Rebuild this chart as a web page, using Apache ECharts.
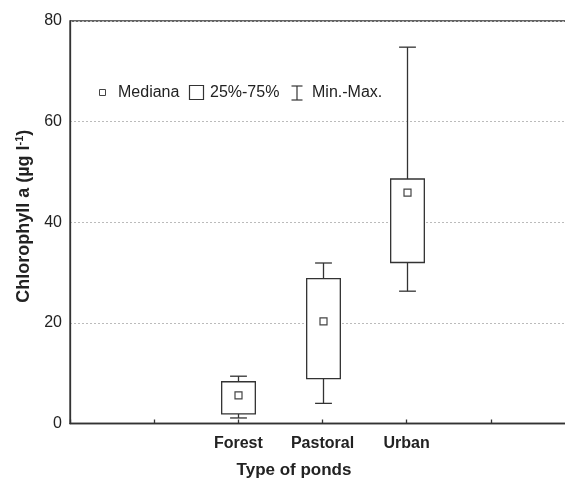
<!DOCTYPE html>
<html>
<head>
<meta charset="utf-8">
<script src="https://cdn.jsdelivr.net/npm/echarts@6/dist/echarts.min.js"></script>
<style>html,body{margin:0;padding:0;background:#fff;}#c{width:565px;height:479px;}</style>
</head>
<body>
<div id="c"></div>
<script>
// Category slots on the x axis (blank slots are empty positions)
var categories = [' ', '  ', 'Forest', 'Pastoral', 'Urban', '   ', '    '];
var groupIndex = [2, 3, 4];
var minVals = [1.1, 4.0, 26.3];
var q1Vals = [1.9, 8.9, 32.0];
var medianVals = [5.6, 20.3, 45.9];
var q3Vals = [8.3, 28.8, 48.6];
var maxVals = [9.4, 31.9, 74.8];
var yTicks = [0, 20, 40, 60, 80];

var FONT = "Arial, 'Liberation Sans', sans-serif";
var INK = '#222';
var LINE = '#333';

var boxData = groupIndex.map(function (g, i) {
  return [g, minVals[i], q1Vals[i], medianVals[i], q3Vals[i], maxVals[i]];
});

function renderBox(params, api) {
  var x = api.value(0);
  var pMin = api.coord([x, api.value(1)]);
  var pQ1 = api.coord([x, api.value(2)]);
  var pMed = api.coord([x, api.value(3)]);
  var pQ3 = api.coord([x, api.value(4)]);
  var pMax = api.coord([x, api.value(5)]);
  var band = api.size([1, 0])[0];
  var hw = band * 0.2;
  var cw = band * 0.1;
  var cx = Math.round(pQ1[0]) + 0.5;
  var st = { stroke: LINE, lineWidth: 1.3, fill: null };
  return {
    type: 'group',
    children: [
      { type: 'line', shape: { x1: cx, y1: pQ3[1], x2: cx, y2: pMax[1] }, style: st },
      { type: 'line', shape: { x1: cx, y1: pQ1[1], x2: cx, y2: pMin[1] }, style: st },
      { type: 'line', shape: { x1: cx - cw, y1: pMax[1], x2: cx + cw, y2: pMax[1] }, style: st },
      { type: 'line', shape: { x1: cx - cw, y1: pMin[1], x2: cx + cw, y2: pMin[1] }, style: st },
      { type: 'rect', shape: { x: cx - hw, y: pQ3[1], width: 2 * hw, height: pQ1[1] - pQ3[1] }, style: { stroke: LINE, lineWidth: 1.3, fill: '#fff' } },
      { type: 'rect', shape: { x: cx - 3.5, y: pMed[1] - 3.5, width: 7, height: 7 }, style: { stroke: '#444', lineWidth: 1.2, fill: '#fff' } }
    ]
  };
}

var chart = echarts.init(document.getElementById('c'), null, { renderer: 'canvas' });
chart.setOption({
  backgroundColor: '#fff',
  animation: false,
  textStyle: { fontFamily: FONT },
  grid: { left: 70, right: -10, top: 21, bottom: 55.5, outerBoundsMode: 'none', containLabel: false, show: true, borderColor: LINE, borderWidth: 1.3, backgroundColor: 'transparent' },
  xAxis: {
    type: 'category',
    data: categories,
    boundaryGap: false,
    axisLine: { lineStyle: { color: LINE, width: 1.3 } },
    axisTick: { show: true, inside: true, length: 4, interval: 0, lineStyle: { color: LINE, width: 1.3 } },
    axisLabel: { color: INK, fontSize: 16, fontWeight: 'bold', margin: 12, interval: 0, hideOverlap: false, fontFamily: FONT },
    splitLine: { show: false },
    name: 'Type of ponds',
    nameLocation: 'middle',
    nameGap: 38,
    nameTextStyle: { color: INK, fontSize: 17, fontWeight: 'bold', fontFamily: FONT, padding: [0, 57, 0, 0] }
  },
  yAxis: {
    type: 'value',
    min: 0, max: 80, interval: 20,
    axisLine: { show: true, lineStyle: { color: LINE, width: 1.3 } },
    axisTick: { show: false },
    axisLabel: { color: INK, fontSize: 16, margin: 8, fontFamily: FONT },
    splitLine: { show: true, lineStyle: { color: '#bbb', type: [2, 2], width: 1 } },
    name: '{b|Chlorophyll a (µg l}{s|-1}{b|)}',
    nameLocation: 'middle',
    nameRotate: 90,
    nameGap: 34,
    nameTextStyle: {
      color: INK, fontFamily: FONT, padding: [0, 0, 0, 12],
      rich: {
        b: { fontSize: 18, fontWeight: 'bold', color: INK, fontFamily: FONT, lineHeight: 20 },
        s: { fontSize: 11, fontWeight: 'bold', color: INK, fontFamily: FONT, verticalAlign: 'top', lineHeight: 20 }
      }
    }
  },
  series: [{
    type: 'custom',
    name: 'box',
    renderItem: renderBox,
    data: boxData,
    encode: { x: 0, y: [1, 2, 3, 4, 5] },
    z: 5
  }],
  graphic: [
    { type: 'rect', shape: { x: 99.5, y: 89.5, width: 6, height: 6 }, style: { fill: '#fff', stroke: '#444', lineWidth: 1 } },
    { type: 'text', x: 118, y: 92.5, style: { text: 'Mediana', font: '16px ' + FONT, fill: INK, verticalAlign: 'middle' } },
    { type: 'rect', shape: { x: 189.5, y: 85.5, width: 14, height: 14 }, style: { fill: '#fff', stroke: LINE, lineWidth: 1.2 } },
    { type: 'text', x: 210, y: 92.5, style: { text: '25%-75%', font: '16px ' + FONT, fill: INK, verticalAlign: 'middle' } },
    { type: 'polyline', shape: { points: [[291.5, 86], [302.5, 86]] }, style: { stroke: LINE, lineWidth: 1.2 } },
    { type: 'polyline', shape: { points: [[297, 86], [297, 100]] }, style: { stroke: LINE, lineWidth: 1.2 } },
    { type: 'polyline', shape: { points: [[291.5, 100], [302.5, 100]] }, style: { stroke: LINE, lineWidth: 1.2 } },
    { type: 'text', x: 312, y: 92.5, style: { text: 'Min.-Max.', font: '16px ' + FONT, fill: INK, verticalAlign: 'middle' } }
  ]
});
</script>
</body>
</html>
